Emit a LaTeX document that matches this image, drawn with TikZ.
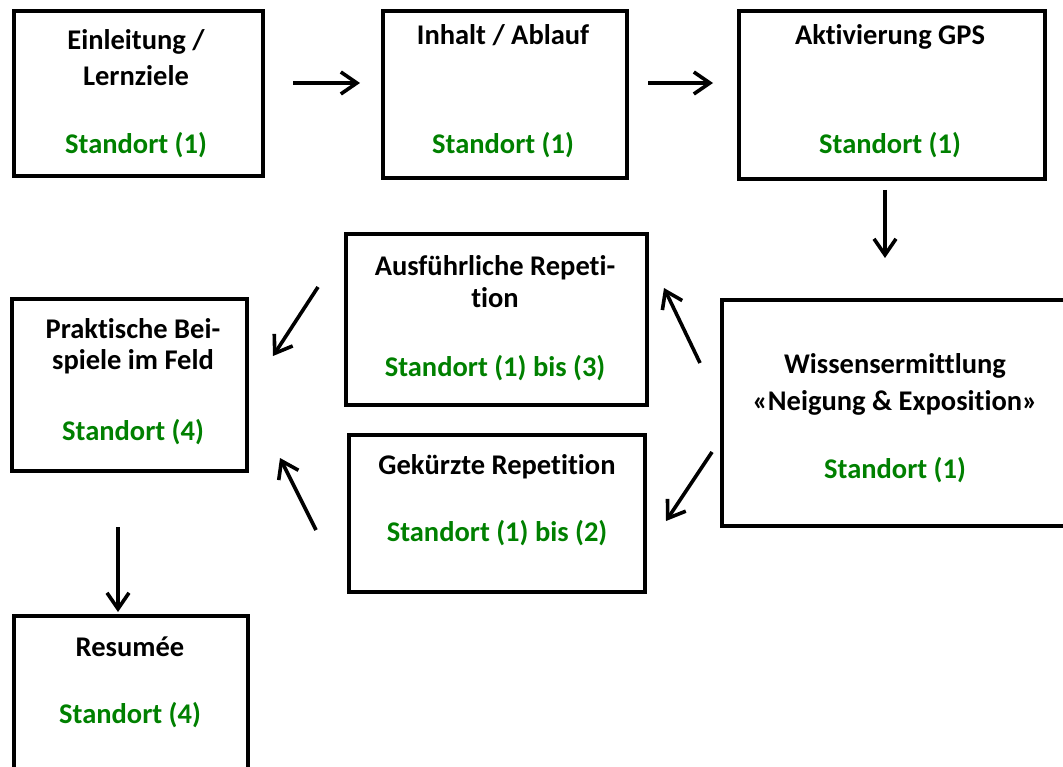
\documentclass[tikz,border=0pt]{standalone}
\usepackage{fontspec}
\setmainfont{Carlito}[Ligatures=NoCommon]
\usetikzlibrary{arrows.meta}
\definecolor{sitegreen}{RGB}{0,128,0}
\tikzset{
  stepbox/.style={draw=black, line width=3.8pt, rectangle, inner sep=0pt, anchor=north west},
  head/.style={anchor=base, inner sep=0pt, font=\fontsize{28.5}{34}\selectfont\bfseries, text=black},
  site/.style={anchor=base, inner sep=0pt, font=\fontsize{28.5}{34}\selectfont\bfseries, text=sitegreen},
  flow/.style={line width=3.6pt, -{Straight Barb[length=16pt,width=22pt,line width=3.6pt]}},
}
\begin{document}
\begin{tikzpicture}[x=1pt,y=-1pt]
\useasboundingbox (0,0) rectangle (1063,767);

% boxes
\node[stepbox, minimum width=249pt, minimum height=165pt] (b1) at (12,9) {};
\node[stepbox, minimum width=244pt, minimum height=167pt] (b2) at (381,9) {};
\node[stepbox, minimum width=306pt, minimum height=168pt] (b3) at (737,9) {};
\node[stepbox, minimum width=350pt, minimum height=226pt] (b4) at (720,298) {};
\node[stepbox, minimum width=301pt, minimum height=171pt] (b5) at (344,232) {};
\node[stepbox, minimum width=296pt, minimum height=157pt] (b6) at (347,433) {};
\node[stepbox, minimum width=235pt, minimum height=172pt] (b7) at (10,297) {};
\node[stepbox, minimum width=234pt, minimum height=190pt] (b8) at (12,614) {};

% texts
\node[head] (t1a) at (136,50) {Einleitung /};
\node[head] (t1b) at (136,86) {Lernziele};
\node[site] (s1) at (136,154) {Standort (1)};

\node[head] (t2) at (503,45) {Inhalt / Ablauf};
\node[site] (s2) at (503,154) {Standort (1)};

\node[head] (t3) at (890,45) {Aktivierung GPS};
\node[site] (s3) at (890,154) {Standort (1)};

\node[head] (t4a) at (895,373) {Wissensermittlung};
\node[head] (t4b) at (895,410) {«Neigung \& Exposition»};
\node[site] (s4) at (895,478) {Standort (1)};

\node[head] (t5a) at (495,276) {Ausführliche Repeti-};
\node[head] (t5b) at (495,308) {tion};
\node[site] (s5) at (495,376) {Standort (1) bis (3)};

\node[head] (t6) at (497,474) {Gekürzte Repetition};
\node[site] (s6) at (497,541) {Standort (1) bis (2)};

\node[head] (t7a) at (133,338) {Praktische Bei-};
\node[head] (t7b) at (133,370) {spiele im Feld};
\node[site] (s7) at (133,440) {Standort (4)};

\node[head] (t8) at (130,656) {Resumée};
\node[site] (s8) at (130,723) {Standort (4)};

% connector ends
\coordinate (a1s) at (293,83);  \coordinate (a1e) at (360,83);
\coordinate (a2s) at (648,83);  \coordinate (a2e) at (713,83);
\coordinate (a3s) at (885,190); \coordinate (a3e) at (885,258);
\coordinate (a4s) at (700,363); \coordinate (a4e) at (664,288);
\coordinate (a5s) at (712,452); \coordinate (a5e) at (666,521);
\coordinate (a6s) at (318,287); \coordinate (a6e) at (273,356);
\coordinate (a7s) at (316,530); \coordinate (a7e) at (280,458);
\coordinate (a8s) at (118,527); \coordinate (a8e) at (118,612);

\draw[flow] (a1s) -- (a1e);
\draw[flow] (a2s) -- (a2e);
\draw[flow] (a3s) -- (a3e);
\draw[flow] (a4s) -- (a4e);
\draw[flow] (a5s) -- (a5e);
\draw[flow] (a6s) -- (a6e);
\draw[flow] (a7s) -- (a7e);
\draw[flow] (a8s) -- (a8e);
\end{tikzpicture}
\end{document}
